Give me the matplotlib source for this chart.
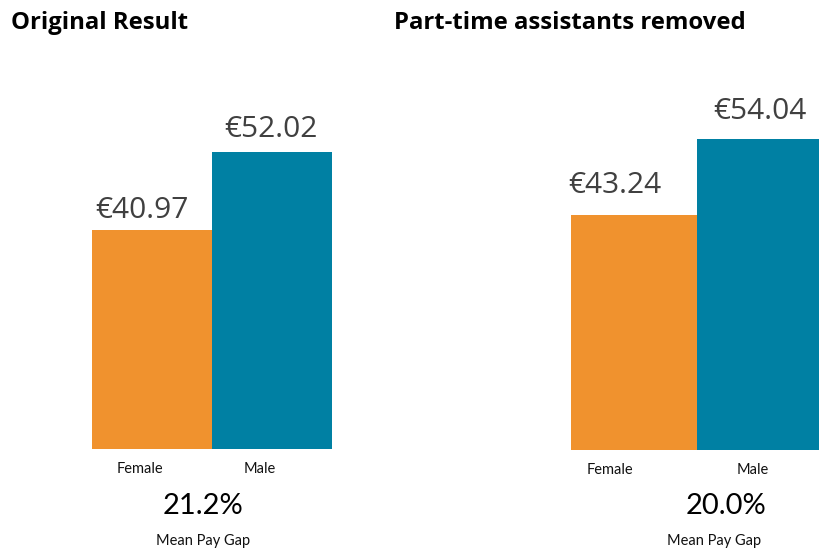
import matplotlib
matplotlib.use("Agg")
import matplotlib.pyplot as plt

# data
categories = ["Female", "Male"]
original = [40.97, 52.02]
removed = [43.24, 54.04]
titles = ["Original Result", "Part-time assistants removed"]
gap_caption = "Mean Pay Gap"

colors = ["#F0922E", "#0080A3"]
W, H = 819, 548
Y_MIN = 10
PX_PER_UNIT = 7.07


def fx(px):
    return px / W


def fy(py):
    return 1 - py / H


fig = plt.figure(figsize=(W / 100, H / 100), dpi=100)
fig.patch.set_facecolor("white")

panels = [
    # values, axes left/right px, bottom px, value label offsets, tick label offsets,
    # title x, gap text x, caption x
    dict(values=original, x0=92, x1=332, bottom=449,
         val_off=[(-10, 12), (-1, 15)], tick_off=[-12, -12],
         title_x=11, gap_x=203, cap_x=203.5),
    dict(values=removed, x0=571, x1=823, bottom=450,
         val_off=[(-19, 22), (0, 20)], tick_off=[-24, -7],
         title_x=394, gap_x=726, cap_x=714.5),
]

for title, p in zip(titles, panels):
    top = 60
    ax = fig.add_axes([fx(p["x0"]), 1 - p["bottom"] / H,
                       fx(p["x1"] - p["x0"]), (p["bottom"] - top) / H])
    ax.set_xlim(-0.5, 1.5)
    ax.set_ylim(Y_MIN, Y_MIN + (p["bottom"] - top) / PX_PER_UNIT)
    ax.axis("off")
    xs = range(len(categories))
    ax.bar(xs, [v - Y_MIN for v in p["values"]], bottom=Y_MIN, width=1.0,
           color=colors, linewidth=0)

    for x, v, (dx, dy) in zip(xs, p["values"], p["val_off"]):
        ax.annotate(f"€{v:.2f}", xy=(x, v), xytext=(dx, dy),
                    textcoords="offset pixels", ha="center", va="baseline",
                    fontsize=21.5, color="#404040", family="Open Sans",
                    annotation_clip=False)

    for x, cat, dx in zip(xs, categories, p["tick_off"]):
        ax.annotate(cat, xy=(x, Y_MIN), xytext=(dx, -24),
                    textcoords="offset pixels", ha="center", va="baseline",
                    fontsize=10.5, color="#111111", family="Lato",
                    annotation_clip=False)

    female, male = p["values"]
    gap = (male - female) / male * 100
    fig.text(fx(p["gap_x"]), fy(514), f"{gap:.1f}%", ha="center", va="baseline",
             fontsize=21, color="black", family="Lato")
    fig.text(fx(p["cap_x"]), fy(545), gap_caption, ha="center", va="baseline",
             fontsize=10.5, color="#111111", family="Lato")
    fig.text(fx(p["title_x"]), fy(29), title, ha="left", va="baseline",
             fontsize=17.2, fontweight="bold", color="black", family="Open Sans")

fig.savefig("out.png", dpi=100, facecolor="white")
